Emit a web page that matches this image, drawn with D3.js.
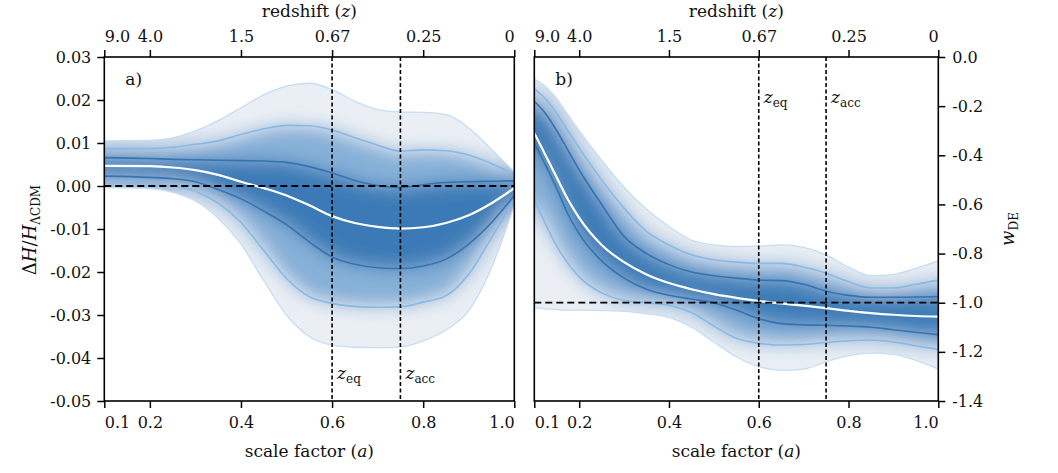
<!DOCTYPE html>
<html>
<head>
<meta charset="utf-8">
<script src="https://cdn.jsdelivr.net/npm/d3@7"></script>
<style>
  body { margin: 0; background: #fff; }
  svg text { font-family: "DejaVu Serif", "Liberation Serif", serif; fill: #111; }
</style>
</head>
<body>
<svg id="chart" width="1058" height="473"></svg>
<script>
// ---- data ----
const aTicks = [0.1, 0.2, 0.4, 0.6, 0.8, 1.0];
const aTickLabels = ['0.1', '0.2', '0.4', '0.6', '0.8', '1.0'];
const zTickLabels = ['9.0', '4.0', '1.5', '0.67', '0.25', '0'];
const aMarks = [0.6, 0.75];                 // z_eq, z_acc

// panel a) : ΔH / H_ΛCDM
const aLeft = [0.1, 0.2, 0.25, 0.3, 0.35, 0.4, 0.45, 0.5, 0.55, 0.6, 0.65, 0.7, 0.75, 0.8, 0.85, 0.9, 0.95, 1.0];
const dhMedian = [0.0047, 0.0046, 0.0043, 0.0037, 0.0026, 0.0010, -0.0005, -0.0022, -0.0045, -0.0070, -0.0086, -0.0095, -0.0099, -0.0096, -0.0086, -0.0068, -0.0040, -0.0005];
const dhUp1 = [0.0066, 0.0064, 0.0062, 0.0061, 0.0060, 0.0059, 0.0058, 0.0055, 0.0045, 0.0030, 0.0013, 0.0001, -0.0004, 0.0003, 0.0008, 0.0010, 0.0011, 0.0012];
const dhLo1 = [0.0023, 0.0020, 0.0017, 0.0010, -0.0008, -0.0030, -0.0058, -0.0090, -0.0130, -0.0165, -0.0182, -0.0190, -0.0192, -0.0186, -0.0170, -0.0135, -0.0085, -0.0022];
const dhUp2 = [0.0087, 0.0087, 0.0090, 0.0097, 0.0105, 0.0120, 0.0133, 0.0141, 0.0140, 0.0130, 0.0112, 0.0095, 0.0081, 0.0084, 0.0082, 0.0072, 0.0052, 0.0028];
const dhLo2 = [0.0007, 0.0005, 0.0000, -0.0012, -0.0040, -0.0085, -0.0150, -0.0215, -0.0257, -0.0273, -0.0280, -0.0282, -0.0281, -0.0270, -0.0255, -0.0205, -0.0120, -0.0030];
const dhUp3 = [0.0105, 0.0106, 0.0112, 0.0128, 0.0152, 0.0182, 0.0212, 0.0232, 0.0239, 0.0224, 0.0197, 0.0178, 0.0172, 0.0171, 0.0166, 0.0135, 0.0085, 0.0033];
const dhLo3 = [-0.0004, -0.0006, -0.0015, -0.0035, -0.0075, -0.0135, -0.0220, -0.0300, -0.0350, -0.0370, -0.0375, -0.0376, -0.0374, -0.0360, -0.0335, -0.0290, -0.0190, -0.0045];

// panel b) : w_DE
const aRight = [0.1, 0.125, 0.15, 0.175, 0.2, 0.25, 0.3, 0.35, 0.4, 0.45, 0.5, 0.55, 0.6, 0.65, 0.7, 0.75, 0.8, 0.85, 0.9, 0.95, 1.0];
const wMedian = [-0.31, -0.40, -0.49, -0.58, -0.655, -0.765, -0.835, -0.885, -0.92, -0.945, -0.965, -0.98, -0.993, -1.003, -1.012, -1.022, -1.033, -1.042, -1.049, -1.054, -1.057];
const wUp1 = [-0.18, -0.23, -0.30, -0.38, -0.46, -0.60, -0.73, -0.80, -0.845, -0.875, -0.89, -0.90, -0.908, -0.91, -0.925, -0.953, -0.97, -0.978, -0.978, -0.977, -0.975];
const wLo1 = [-0.35, -0.44, -0.535, -0.64, -0.72, -0.83, -0.90, -0.945, -0.97, -0.985, -1.0, -1.03, -1.065, -1.085, -1.09, -1.092, -1.095, -1.10, -1.11, -1.12, -1.13];
const wUp2 = [-0.13, -0.17, -0.23, -0.30, -0.37, -0.50, -0.615, -0.71, -0.765, -0.805, -0.825, -0.835, -0.84, -0.84, -0.855, -0.88, -0.915, -0.94, -0.94, -0.925, -0.908];
const wLo2 = [-0.58, -0.68, -0.77, -0.84, -0.895, -0.96, -0.99, -1.0, -1.01, -1.04, -1.095, -1.145, -1.165, -1.172, -1.17, -1.162, -1.155, -1.152, -1.16, -1.175, -1.19];
const wUp3 = [-0.09, -0.12, -0.17, -0.235, -0.30, -0.42, -0.53, -0.62, -0.69, -0.745, -0.765, -0.772, -0.77, -0.765, -0.775, -0.805, -0.855, -0.89, -0.885, -0.86, -0.83];
const wLo3 = [-1.02, -1.025, -1.028, -1.03, -1.03, -1.032, -1.035, -1.045, -1.06, -1.10, -1.16, -1.22, -1.26, -1.275, -1.27, -1.24, -1.215, -1.205, -1.21, -1.235, -1.27];

const COL = {
  fill3: '#eaeff4', fill2: '#86b0d8', fill1: '#3a7ab6',
  line3: '#c6ddf2', line2: '#88bae5', line1: '#3574b2'
};

const svg = d3.select('#chart');
const defs = svg.append('defs');
const soft = defs.append('filter').attr('id', 'soft')
  .attr('x', '-5%').attr('y', '-5%').attr('width', '110%').attr('height', '110%');
soft.append('feGaussianBlur').attr('stdDeviation', 9);
soft.append('feComponentTransfer').append('feFuncA').attr('type', 'linear').attr('slope', 40);

function panel(opts) {
  const { id, a, med, up1, lo1, up2, lo2, up3, lo3, x, y, yRef, side, yTicks, yFmt, tag, markLabelY } = opts;
  const g = svg.append('g');
  const area = (lo, hi) => d3.area().curve(d3.curveMonotoneX)
    .x((_, i) => x(a[i])).y0((_, i) => y(lo[i])).y1((_, i) => y(hi[i]))(a);
  const line = (v) => d3.line().curve(d3.curveMonotoneX)
    .x((_, i) => x(a[i])).y((_, i) => y(v[i]))(a);

  defs.append('clipPath').attr('id', 'band-' + id).append('path').attr('d', area(lo3, up3));
  defs.append('clipPath').attr('id', 'frame-' + id).append('rect')
    .attr('x', x.range()[0]).attr('y', y.range()[1])
    .attr('width', x.range()[1] - x.range()[0]).attr('height', y.range()[0] - y.range()[1]);

  const inner = g.append('g').attr('clip-path', `url(#frame-${id})`);
  const shade = inner.append('g').attr('clip-path', `url(#band-${id})`)
    .append('g').attr('filter', 'url(#soft)');
  shade.append('path').attr('d', area(lo3, up3)).attr('fill', COL.fill3);
  shade.append('path').attr('d', area(lo2, up2)).attr('fill', COL.fill2);
  shade.append('path').attr('d', area(lo1, up1)).attr('fill', COL.fill1);

  [[up3, COL.line3, 1.3], [lo3, COL.line3, 1.3], [up2, COL.line2, 1.6], [lo2, COL.line2, 1.6],
   [up1, COL.line1, 1.6], [lo1, COL.line1, 1.6]].forEach(([v, c, w]) => {
    inner.append('path').attr('d', line(v)).attr('fill', 'none').attr('stroke', c).attr('stroke-width', w);
  });
  inner.append('path').attr('d', line(med)).attr('fill', 'none').attr('stroke', '#fff').attr('stroke-width', 2.2);

  // reference lines
  inner.append('line').attr('x1', x.range()[0]).attr('x2', x.range()[1])
    .attr('y1', y(yRef)).attr('y2', y(yRef))
    .attr('stroke', '#000').attr('stroke-width', 1.8).attr('stroke-dasharray', '7 4');
  aMarks.forEach(m => {
    inner.append('line').attr('x1', x(m)).attr('x2', x(m))
      .attr('y1', y.range()[1]).attr('y2', y.range()[0])
      .attr('stroke', '#000').attr('stroke-width', 1.6).attr('stroke-dasharray', '4 2.5');
  });

  // frame
  g.append('rect').attr('x', x.range()[0]).attr('y', y.range()[1])
    .attr('width', x.range()[1] - x.range()[0]).attr('height', y.range()[0] - y.range()[1])
    .attr('fill', 'none').attr('stroke', '#000').attr('stroke-width', 1.6);

  // axes
  const last = aTicks.length - 1;
  const styleAxis = sel => {
    sel.select('.domain').remove();
    sel.selectAll('.tick line').attr('stroke', '#000').attr('stroke-width', 1.5);
    sel.selectAll('.tick text').attr('font-size', 16).attr('fill', '#111')
      .attr('font-family', '"DejaVu Serif", serif');
  };
  const edgeAnchors = sel => {
    sel.selectAll('.tick text').attr('text-anchor', (_, i) => i === 0 ? 'start' : i === last ? 'end' : 'middle');
  };
  g.append('g').attr('transform', `translate(0,${y.range()[0]})`)
    .call(d3.axisBottom(x).tickValues(aTicks).tickFormat((_, i) => aTickLabels[i]).tickSize(7).tickPadding(9))
    .call(styleAxis).call(edgeAnchors);
  g.append('g').attr('transform', `translate(0,${y.range()[1]})`)
    .call(d3.axisTop(x).tickValues(aTicks).tickFormat((_, i) => zTickLabels[i]).tickSize(7).tickPadding(8))
    .call(styleAxis).call(edgeAnchors);
  if (side === 'left') {
    g.append('g').attr('transform', `translate(${x.range()[0]},0)`)
      .call(d3.axisLeft(y).tickValues(yTicks).tickFormat(yFmt).tickSize(7).tickPadding(6))
      .call(styleAxis);
  } else {
    g.append('g').attr('transform', `translate(${x.range()[1]},0)`)
      .call(d3.axisRight(y).tickValues(yTicks).tickFormat(yFmt).tickSize(7).tickPadding(7))
      .call(styleAxis);
  }

  // titles
  const cx = (x.range()[0] + x.range()[1]) / 2;
  g.append('text').attr('x', cx).attr('y', 457).attr('text-anchor', 'middle').attr('font-size', 17)
    .html('scale factor (<tspan font-style="italic">a</tspan>)');
  g.append('text').attr('x', cx).attr('y', 17).attr('text-anchor', 'middle').attr('font-size', 17)
    .html('redshift (<tspan font-style="italic">z</tspan>)');
  g.append('text').attr('x', x.range()[0] + 21).attr('y', 85).attr('font-size', 17).text(tag);

  const markNames = ['eq', 'acc'];
  aMarks.forEach((m, i) => {
    g.append('text').attr('x', x(m) + 5).attr('y', markLabelY).attr('font-size', 17)
      .html(`<tspan font-style="italic">z</tspan><tspan font-size="12" dy="4">${markNames[i]}</tspan>`);
  });
}

const xL = d3.scaleLinear().domain([0.1, 1.0]).range([104.3, 514.3]);
const yL = d3.scaleLinear().domain([-0.05, 0.03]).range([401, 57]);
const xR = d3.scaleLinear().domain([0.1, 1.0]).range([534.3, 938.3]);
const yR = d3.scaleLinear().domain([-1.4, 0.0]).range([401, 57]);

const fmtL = d => (d < -1e-9 ? '-' : '') + Math.abs(d).toFixed(2);
const fmtR = d => (d < -1e-9 ? '-' : '') + Math.abs(d).toFixed(1);

panel({ id: 'L', a: aLeft, med: dhMedian, up1: dhUp1, lo1: dhLo1, up2: dhUp2, lo2: dhLo2, up3: dhUp3, lo3: dhLo3,
  x: xL, y: yL, yRef: 0, side: 'left', yTicks: d3.range(-0.05, 0.031, 0.01), yFmt: fmtL, tag: 'a)', markLabelY: 379 });
panel({ id: 'R', a: aRight, med: wMedian, up1: wUp1, lo1: wLo1, up2: wUp2, lo2: wLo2, up3: wUp3, lo3: wLo3,
  x: xR, y: yR, yRef: -1, side: 'right', yTicks: d3.range(-1.4, 0.01, 0.2), yFmt: fmtR, tag: 'b)', markLabelY: 103 });

// y-axis titles
svg.append('text').attr('transform', 'translate(36,230) rotate(-90)').attr('text-anchor', 'middle')
  .attr('font-size', 18)
  .html('Δ<tspan font-style="italic">H</tspan>/<tspan font-style="italic">H</tspan><tspan font-size="12" dy="4">ΛCDM</tspan>');
svg.append('text').attr('transform', 'translate(1014,229) rotate(-90)').attr('text-anchor', 'middle')
  .attr('font-size', 18)
  .html('<tspan font-style="italic">w</tspan><tspan font-size="12" dy="4">DE</tspan>');
</script>
</body>
</html>
